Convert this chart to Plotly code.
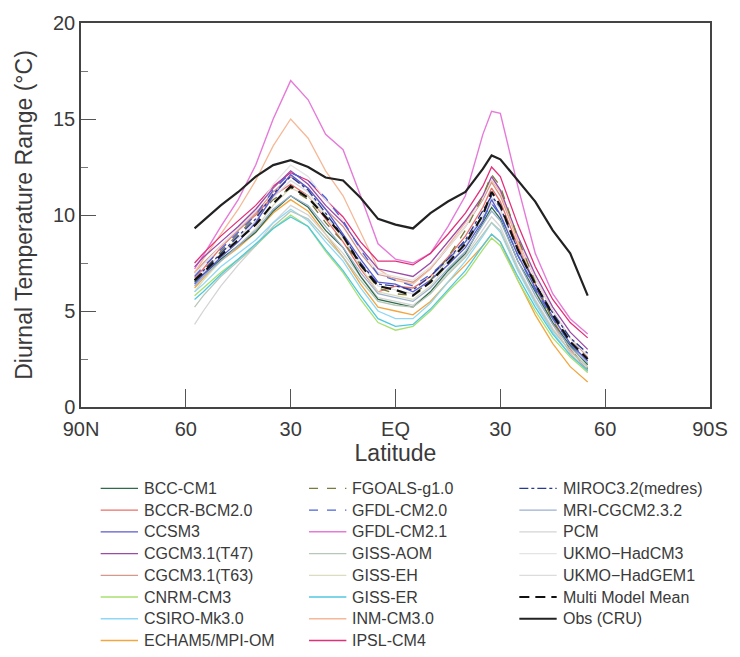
import plotly.graph_objects as go

# Zonal-mean land diurnal temperature range (deg C) by latitude
LAT = [57.5, 55, 50, 45, 40, 35, 30, 25, 20, 15, 10, 5, 0, -5, -10, -15,
       -20, -25, -27.5, -30, -35, -40, -45, -50, -55]

bcc_cm1 = [6.5, 6.9, 7.7, 8.4, 9.1, 10.2, 11.0, 10.4, 9.2, 8.3, 6.8, 5.6, 5.4,
           5.2, 6.0, 7.1, 8.0, 9.6, 10.4, 9.8, 7.6, 6.0, 4.4, 3.2, 2.2]
bccr_bcm2 = [6.7, 7.2, 8.3, 9.2, 10.0, 11.0, 11.6, 11.0, 9.8, 8.6, 7.2, 6.0, 6.3,
             6.2, 6.8, 7.8, 8.9, 10.4, 11.4, 10.7, 8.4, 6.4, 4.6, 3.0, 1.9]
ccsm3 = [6.4, 6.9, 7.8, 8.6, 9.6, 11.0, 12.1, 11.4, 10.3, 9.0, 7.7, 6.5, 6.4,
         6.0, 6.6, 7.4, 8.3, 9.7, 10.8, 10.0, 7.9, 6.2, 4.7, 3.3, 2.4]
cgcm_t47 = [7.3, 7.8, 8.6, 9.4, 10.3, 11.4, 12.3, 11.6, 10.5, 9.6, 8.3, 7.2, 7.0,
            6.8, 7.5, 8.6, 9.7, 11.0, 12.0, 11.3, 8.9, 6.9, 5.2, 3.9, 3.0]
cgcm_t63 = [7.0, 7.5, 8.4, 9.2, 10.1, 11.2, 12.0, 11.4, 10.3, 9.4, 8.0, 6.9, 6.7,
            6.5, 7.2, 8.3, 9.4, 10.8, 11.7, 11.0, 8.7, 6.7, 5.0, 3.6, 2.6]
cnrm_cm3 = [5.8, 6.2, 7.0, 7.7, 8.4, 9.3, 10.0, 9.4, 8.1, 7.0, 5.6, 4.4, 4.0,
            4.2, 5.0, 6.0, 6.9, 8.2, 8.8, 8.4, 6.6, 5.0, 3.6, 2.6, 1.8]
csiro_mk3 = [6.0, 6.4, 7.3, 8.0, 8.7, 9.6, 10.3, 9.7, 8.6, 7.6, 6.2, 5.0, 4.6,
             4.6, 5.4, 6.5, 7.6, 8.9, 9.6, 9.1, 7.1, 5.4, 3.9, 2.7, 1.9]
echam5 = [6.2, 6.7, 7.6, 8.3, 9.1, 10.1, 10.8, 10.2, 9.0, 7.8, 6.4, 5.2, 5.0,
          4.8, 5.5, 6.5, 7.4, 8.4, 9.0, 8.6, 6.6, 4.8, 3.3, 2.1, 1.3]
fgoals = [6.6, 7.1, 8.1, 9.0, 9.9, 10.8, 11.4, 10.8, 9.6, 8.6, 7.4, 6.2, 5.9,
          5.8, 6.6, 7.8, 9.2, 11.0, 12.1, 11.5, 8.8, 6.5, 4.5, 3.0, 2.0]
gfdl_cm20 = [6.8, 7.3, 8.2, 9.1, 10.0, 11.3, 12.2, 11.8, 10.9, 9.7, 8.2, 6.9, 6.6,
             6.3, 6.9, 7.7, 8.6, 9.8, 10.6, 10.0, 7.9, 6.1, 4.6, 3.3, 2.5]
gfdl_cm21 = [7.2, 7.9, 9.4, 10.8, 12.6, 15.0, 17.0, 16.0, 14.2, 13.4, 11.0, 8.5, 7.7,
             7.5, 8.0, 9.4, 11.0, 14.2, 15.4, 15.3, 11.5, 8.0, 5.9, 4.6, 3.8]
giss_aom = [5.2, 5.8, 6.8, 7.6, 8.4, 9.4, 10.2, 9.8, 8.8, 7.8, 6.6, 5.5, 5.3,
            5.2, 5.9, 6.9, 7.8, 9.0, 9.6, 9.2, 7.2, 5.5, 4.0, 2.9, 2.1]
giss_eh = [6.0, 6.6, 7.6, 8.4, 9.3, 10.5, 11.4, 11.0, 9.9, 8.8, 7.3, 6.0, 5.8,
           5.6, 6.3, 7.4, 8.4, 9.9, 10.6, 10.1, 7.9, 6.0, 4.4, 3.1, 2.2]
giss_er = [5.6, 6.0, 6.9, 7.7, 8.5, 9.3, 9.9, 9.4, 8.2, 7.1, 5.8, 4.6, 4.2,
           4.3, 5.1, 6.1, 7.1, 8.4, 9.0, 8.6, 6.8, 5.2, 3.8, 2.7, 1.9]
inm_cm3 = [7.0, 7.7, 9.0, 10.3, 11.8, 13.6, 15.0, 14.0, 12.3, 11.0, 9.1, 7.2, 6.6,
           6.4, 7.2, 8.4, 9.6, 11.0, 11.8, 11.2, 8.6, 6.2, 4.3, 2.8, 1.8]
ipsl_cm4 = [7.5, 8.0, 8.9, 9.7, 10.5, 11.5, 12.2, 11.8, 10.8, 9.9, 8.6, 7.6, 7.6,
            7.4, 8.0, 9.0, 10.1, 11.5, 12.5, 12.0, 9.5, 7.3, 5.6, 4.4, 3.6]
miroc_med = [6.6, 7.1, 8.0, 8.9, 9.8, 11.1, 12.0, 11.3, 10.1, 8.9, 7.5, 6.4, 6.3,
             6.1, 6.8, 7.7, 8.7, 10.2, 11.0, 10.4, 8.2, 6.4, 4.9, 3.6, 2.8]
mri_cgcm = [6.3, 6.8, 7.6, 8.4, 9.2, 10.3, 11.0, 10.5, 9.4, 8.3, 7.0, 5.9, 5.7,
            5.5, 6.2, 7.2, 8.1, 9.5, 10.2, 9.7, 7.6, 5.8, 4.3, 3.1, 2.3]
pcm = [4.3, 5.0, 6.3, 7.4, 8.4, 9.6, 10.5, 10.0, 9.0, 8.0, 6.8, 5.7, 5.5,
       5.3, 6.0, 7.0, 7.9, 9.2, 9.9, 9.4, 7.3, 5.6, 4.1, 2.9, 2.0]
ukmo_hadcm3 = [6.9, 7.4, 8.4, 9.3, 10.2, 11.6, 12.6, 12.0, 10.8, 9.7, 8.2, 7.0, 6.8,
               6.6, 7.3, 8.3, 9.4, 10.9, 11.9, 11.3, 8.8, 6.7, 5.0, 3.6, 2.7]
ukmo_hadgem1 = [6.5, 7.0, 8.0, 8.8, 9.7, 10.9, 11.8, 11.2, 10.0, 8.9, 7.5, 6.3, 6.1,
                5.9, 6.6, 7.6, 8.6, 10.0, 10.9, 10.3, 8.1, 6.2, 4.6, 3.3, 2.4]
multi_model_mean = [6.6, 7.0, 7.9, 8.7, 9.5, 10.6, 11.5, 10.9, 9.9, 8.9, 7.4, 6.3, 6.1,
                    5.8, 6.5, 7.5, 8.5, 10.0, 11.2, 10.5, 8.2, 6.4, 4.8, 3.4, 2.5]
obs_cru = [9.3, 9.7, 10.5, 11.2, 12.0, 12.6, 12.85, 12.5, 11.95, 11.8, 10.9, 9.8, 9.5,
           9.3, 10.1, 10.7, 11.2, 12.4, 13.1, 12.9, 11.8, 10.7, 9.2, 8.0, 5.8]

X_TICK_VALS = [90, 60, 30, 0, -30, -60, -90]
X_TICK_TEXT = ["90N", "60", "30", "EQ", "30", "60", "90S"]
Y_TICK_VALS = [0, 5, 10, 15, 20]

SERIES = [
    ("BCC-CM1", bcc_cm1), ("BCCR-BCM2.0", bccr_bcm2), ("CCSM3", ccsm3),
    ("CGCM3.1(T47)", cgcm_t47), ("CGCM3.1(T63)", cgcm_t63), ("CNRM-CM3", cnrm_cm3),
    ("CSIRO-Mk3.0", csiro_mk3), ("ECHAM5/MPI-OM", echam5), ("FGOALS-g1.0", fgoals),
    ("GFDL-CM2.0", gfdl_cm20), ("GFDL-CM2.1", gfdl_cm21), ("GISS-AOM", giss_aom),
    ("GISS-EH", giss_eh), ("GISS-ER", giss_er), ("INM-CM3.0", inm_cm3),
    ("IPSL-CM4", ipsl_cm4), ("MIROC3.2(medres)", miroc_med), ("MRI-CGCM2.3.2", mri_cgcm),
    ("PCM", pcm), ("UKMO\u2212HadCM3", ukmo_hadcm3), ("UKMO\u2212HadGEM1", ukmo_hadgem1),
    ("Multi Model Mean", multi_model_mean), ("Obs (CRU)", obs_cru),
]

STYLE = {
    "BCC-CM1": ("#2e6b4a", "solid", 1.3),
    "BCCR-BCM2.0": ("#e8706a", "solid", 1.3),
    "CCSM3": ("#5a5ad0", "solid", 1.3),
    "CGCM3.1(T47)": ("#9b4aa8", "solid", 1.3),
    "CGCM3.1(T63)": ("#d4998a", "solid", 1.3),
    "CNRM-CM3": ("#a8e070", "solid", 1.3),
    "CSIRO-Mk3.0": ("#8fd8f5", "solid", 1.3),
    "ECHAM5/MPI-OM": ("#f2a640", "solid", 1.3),
    "FGOALS-g1.0": ("#7a7a3a", "dash", 1.3),
    "GFDL-CM2.0": ("#4a64d8", "dash", 1.3),
    "GFDL-CM2.1": ("#e67ad8", "solid", 1.4),
    "GISS-AOM": ("#b8c8b8", "solid", 1.3),
    "GISS-EH": ("#dcdcc0", "solid", 1.3),
    "GISS-ER": ("#50c8e0", "solid", 1.3),
    "INM-CM3.0": ("#f5b898", "solid", 1.3),
    "IPSL-CM4": ("#e0307a", "solid", 1.3),
    "MIROC3.2(medres)": ("#283a90", "dashdot", 1.3),
    "MRI-CGCM2.3.2": ("#9ab0d0", "solid", 1.3),
    "PCM": ("#d4d4d4", "solid", 1.3),
    "UKMO\u2212HadCM3": ("#e4e4e4", "solid", 1.3),
    "UKMO\u2212HadGEM1": ("#dcdcdc", "solid", 1.3),
    "Multi Model Mean": ("#111111", "10px,6px", 2.2),
    "Obs (CRU)": ("#222222", "solid", 2.2),
}

LEGEND_COLUMNS = [
    ["BCC-CM1", "BCCR-BCM2.0", "CCSM3", "CGCM3.1(T47)", "CGCM3.1(T63)",
     "CNRM-CM3", "CSIRO-Mk3.0", "ECHAM5/MPI-OM"],
    ["FGOALS-g1.0", "GFDL-CM2.0", "GFDL-CM2.1", "GISS-AOM", "GISS-EH",
     "GISS-ER", "INM-CM3.0", "IPSL-CM4"],
    ["MIROC3.2(medres)", "MRI-CGCM2.3.2", "PCM", "UKMO\u2212HadCM3",
     "UKMO\u2212HadGEM1", "Multi Model Mean", "Obs (CRU)"],
]

W, H = 740, 657
PLOT_L, PLOT_R, PLOT_T, PLOT_B = 81, 721, 20, 407
FONT = "Liberation Sans, Arial, sans-serif"
TEXT = "#3a3a3a"


def px_x(px):
    return (px - PLOT_L) / (PLOT_R - PLOT_L)


def px_y(py):
    return (PLOT_B - py) / (PLOT_B - PLOT_T)


fig = go.Figure()

# pale models first so the darker curves stay on top
draw_order = sorted(SERIES, key=lambda s: (s[0] in ("Multi Model Mean", "Obs (CRU)"),
                                            STYLE[s[0]][0] < "#c"))
for name, vals in draw_order:
    color, dash, width = STYLE[name]
    fig.add_trace(go.Scatter(
        x=LAT, y=vals, mode="lines", name=name, showlegend=False,
        line=dict(color=color, dash=dash, width=width),
    ))

# three-column key below the axes
col_x = [101, 313, 527]
row0, row_step, key_len = 489, 21.9, 38
shapes, annotations = [], []
for c, names in enumerate(LEGEND_COLUMNS):
    for r, name in enumerate(names):
        color, dash, width = STYLE[name]
        yy = px_y(row0 + r * row_step)
        shapes.append(dict(
            type="line", xref="paper", yref="paper",
            x0=px_x(col_x[c]), x1=px_x(col_x[c] + key_len), y0=yy, y1=yy,
            line=dict(color=color, dash=dash, width=width),
        ))
        annotations.append(dict(
            xref="paper", yref="paper", x=px_x(col_x[c] + key_len + 4), y=yy,
            text=name, showarrow=False, xanchor="left", yanchor="middle",
            font=dict(family=FONT, size=16, color=TEXT),
        ))

fig.update_layout(
    width=W, height=H,
    margin=dict(l=PLOT_L, r=W - PLOT_R, t=PLOT_T, b=H - PLOT_B),
    paper_bgcolor="white", plot_bgcolor="white",
    showlegend=False,
    shapes=shapes, annotations=annotations,
    font=dict(family=FONT, color=TEXT),
)
fig.update_xaxes(
    range=[90, -90], tickmode="array", tickvals=X_TICK_VALS, ticktext=X_TICK_TEXT,
    ticks="inside", ticklen=18, tickcolor="#555", tickwidth=1,
    showgrid=False, zeroline=False, showline=True, linecolor="#444", linewidth=1.5,
    mirror=True, tickfont=dict(size=20, color=TEXT), ticklabelstandoff=3,
    title=dict(text="Latitude", font=dict(size=23, color=TEXT), standoff=2),
)
fig.update_yaxes(
    range=[0, 20], tickmode="array", tickvals=Y_TICK_VALS,
    ticks="inside", ticklen=15, tickcolor="#555", tickwidth=1,
    minor=dict(ticks="inside", dtick=2.5, ticklen=7, tickcolor="#777", showgrid=False),
    showgrid=False, zeroline=False, showline=True, linecolor="#444", linewidth=1.5,
    mirror=True, tickfont=dict(size=20, color=TEXT),
    title=dict(text="Diurnal Temperature Range (\u00b0C)", font=dict(size=23, color=TEXT),
               standoff=14),
)

fig.write_html("out.html")
